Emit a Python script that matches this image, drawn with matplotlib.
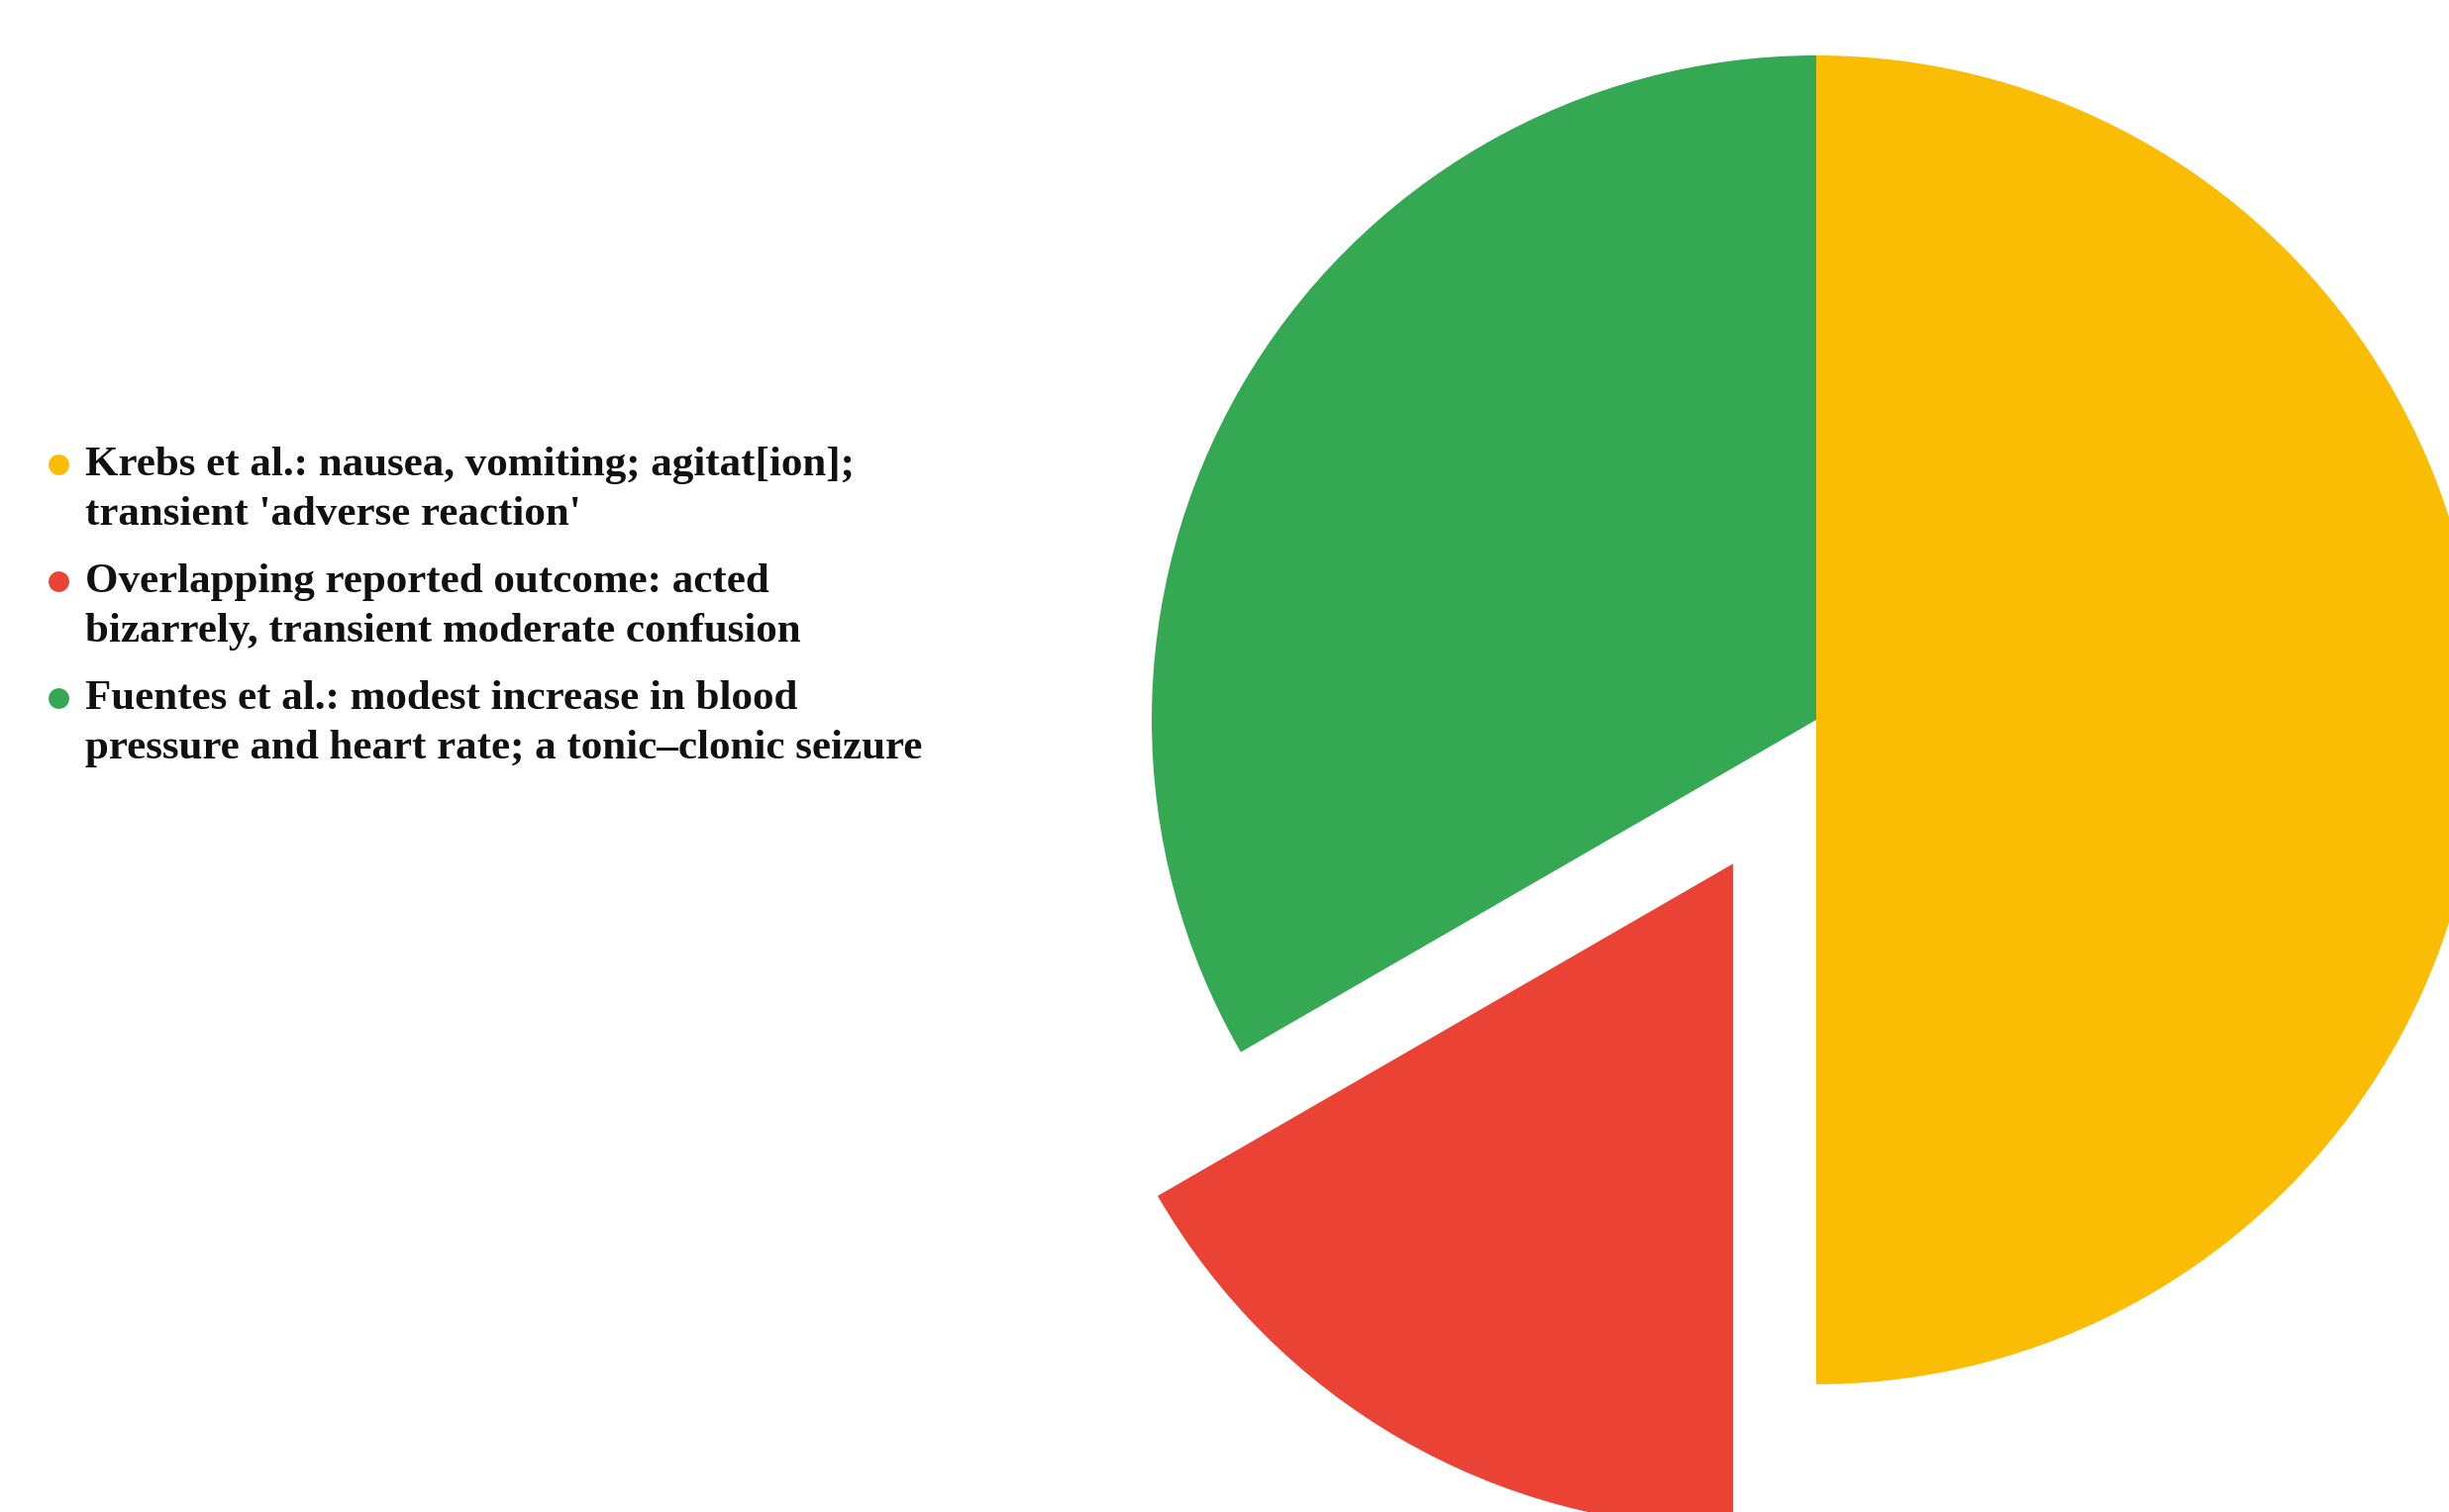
import matplotlib
matplotlib.use("Agg")
import matplotlib.pyplot as plt

# Data
categories = [
    "Krebs et al.: nausea, vomiting; agitat[ion];\ntransient 'adverse reaction'",
    "Overlapping reported outcome: acted\nbizarrely, transient moderate confusion",
    "Fuentes et al.: modest increase in blood\npressure and heart rate; a tonic\u2013clonic seizure",
]
values = [3, 1, 2]
colors = ["#FBBC04", "#EA4335", "#34A853"]
explode_frac = [0, 0.25, 0]

W, H = 2473, 1527
R = 671
fig = plt.figure(figsize=(W / 100, H / 100), dpi=100)
ax = fig.add_axes([0, 0, 1, 1])

ax.pie(values, colors=colors, explode=[e * R for e in explode_frac],
       startangle=90, counterclock=False,
       center=(1834, 800), radius=R, frame=True,
       wedgeprops=dict(linewidth=0))
ax.set_xlim(0, W)
ax.set_ylim(0, H)
ax.set_aspect("equal")
ax.axis("off")

# Legend (custom, marker aligned with first line)
marker_x = 59
text_x = 86
first_marker_y = 469
first_baseline = 480
item_step = 118
line_step = 50
for i, (lab, col) in enumerate(zip(categories, colors)):
    my = H - (first_marker_y + i * item_step)
    ax.plot([marker_x], [my], marker="o", markersize=15, color=col,
            markeredgewidth=0, linestyle="none")
    for j, line in enumerate(lab.split("\n")):
        by = H - (first_baseline + i * item_step + j * line_step)
        ax.text(text_x, by, line, fontsize=31, fontweight="bold",
                family="Liberation Serif", color="#111111",
                ha="left", va="baseline")

fig.savefig("out.png", dpi=100)
